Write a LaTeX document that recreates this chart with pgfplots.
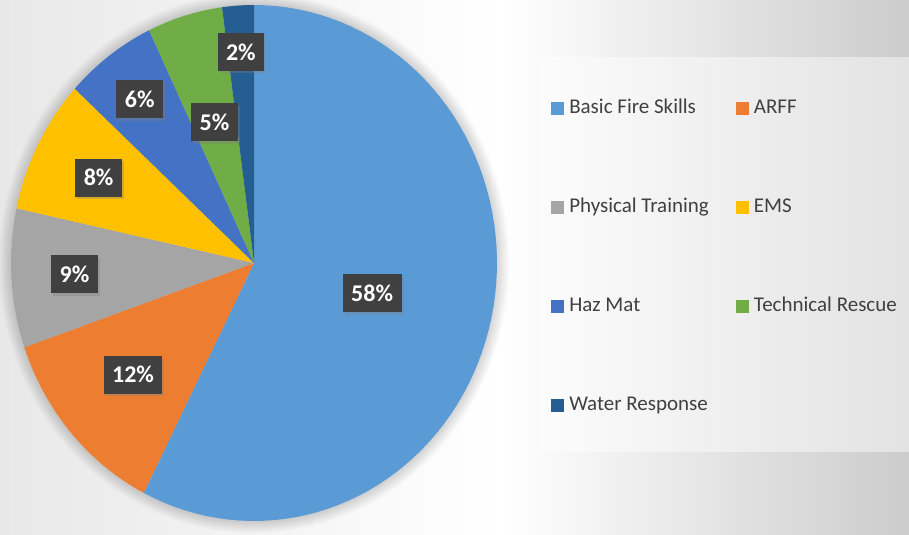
\documentclass[border=0pt]{standalone}
\usepackage{fontspec}
\setmainfont{Carlito}
\usepackage{pgfplots}
\usepackage{pgfplotstable}
\pgfplotsset{compat=1.18}
\usetikzlibrary{shadows}

\definecolor{slice0}{HTML}{5B9BD5}
\definecolor{slice1}{HTML}{ED7D31}
\definecolor{slice2}{HTML}{A5A5A5}
\definecolor{slice3}{HTML}{FFC000}
\definecolor{slice4}{HTML}{4472C4}
\definecolor{slice5}{HTML}{70AD47}
\definecolor{slice6}{HTML}{255E91}
\definecolor{boxgray}{HTML}{404040}
\definecolor{txtgray}{HTML}{404040}

% share in percent, printed label, label distance from centre (fraction of radius)
\pgfplotstableread[col sep=comma]{
name,pct,lab,r
Basic Fire Skills,57.5,58,0.50
ARFF,12.2,12,0.66
Physical Training,8.7,9,0.74
EMS,8.4,8,0.72
Haz Mat,6.1,6,0.79
Technical Rescue,5.0,5,0.57
Water Response,2.1,2,0.82
}\piedata

\begin{document}
\begin{tikzpicture}[
  lbl/.style={fill=boxgray, text=white, font=\bfseries\fontsize{24bp}{28bp}\selectfont,
    inner xsep=8.5bp, inner ysep=0pt, minimum height=38bp,
    drop shadow={shadow xshift=2bp, shadow yshift=-2.5bp, opacity=0.35}}]
\useasboundingbox (0,0) rectangle (909bp,535bp);
% background
\shade[left color=white!91!black, right color=white] (0,0) rectangle (500bp,535bp);
\shade[left color=white, right color=white!80!black] (500bp,0) rectangle (909bp,535bp);
% soft shadow round the pie
\foreach \k in {1,...,8}
  \fill[black, opacity=0.02] (254bp,272bp) ellipse [x radius={243bp+\k*1.5bp}, y radius={258bp+\k*1.5bp}];
% legend panel
\fill[white, opacity=0.45] (539bp,83bp) rectangle (909bp,478bp);

\begin{axis}[
  hide axis,
  scale only axis,
  width=486bp, height=516bp,
  xmin=-1, xmax=1, ymin=-1, ymax=1,
  at={(254bp,272bp)}, anchor=center,
  clip=false,
  legend columns=2,
  legend cell align=left,
  legend image code/.code={\fill[#1] (0bp,-6.5bp) rectangle (13bp,6.5bp);},
  legend style={at={(1.1112,0.8227)}, anchor=north west, draw=none, fill=none,
    font=\fontsize{21bp}{25bp}\selectfont, text=txtgray, inner sep=0pt,
    row sep=75bp,
    nodes={inner sep=2bp, text height=15bp, text depth=5bp},
    /tikz/every odd column/.append style={column sep=3bp},
    /tikz/every even column/.append style={column sep=25bp}},
]
\def\cum{0}
\pgfplotsforeachungrouped \i in {0,...,6}{
  \pgfplotstablegetelem{\i}{pct}\of\piedata \let\p\pgfplotsretval
  \pgfplotstablegetelem{\i}{name}\of\piedata \let\nm\pgfplotsretval
  \pgfmathsetmacro\a{90-3.6*\cum}
  \pgfmathsetmacro\b{90-3.6*(\cum+\p)}
  \edef\temp{\noexpand\addplot[fill=slice\i, draw=none, domain=\b:\a, samples=80]
    ({cos(x)},{sin(x)}) -- (axis cs:0,0) -- cycle;
    \noexpand\addlegendentry{\nm}}
  \temp
  \pgfmathsetmacro\cumnew{\cum+\p}
  \let\cum\cumnew
}
\def\cum{0}
\pgfplotsforeachungrouped \i in {0,...,6}{
  \pgfplotstablegetelem{\i}{pct}\of\piedata \let\p\pgfplotsretval
  \pgfplotstablegetelem{\i}{lab}\of\piedata \let\ll\pgfplotsretval
  \pgfplotstablegetelem{\i}{r}\of\piedata \let\rr\pgfplotsretval
  \pgfmathsetmacro\m{90-3.6*(\cum+\p/2)}
  \pgfmathsetmacro\lx{\rr*cos(\m)}
  \pgfmathsetmacro\ly{\rr*sin(\m)}
  \edef\temp{\noexpand\node[lbl] at (axis cs:\lx,\ly) {\ll\noexpand\%};}
  \temp
  \pgfmathsetmacro\cumnew{\cum+\p}
  \let\cum\cumnew
}
\end{axis}
\end{tikzpicture}
\end{document}
